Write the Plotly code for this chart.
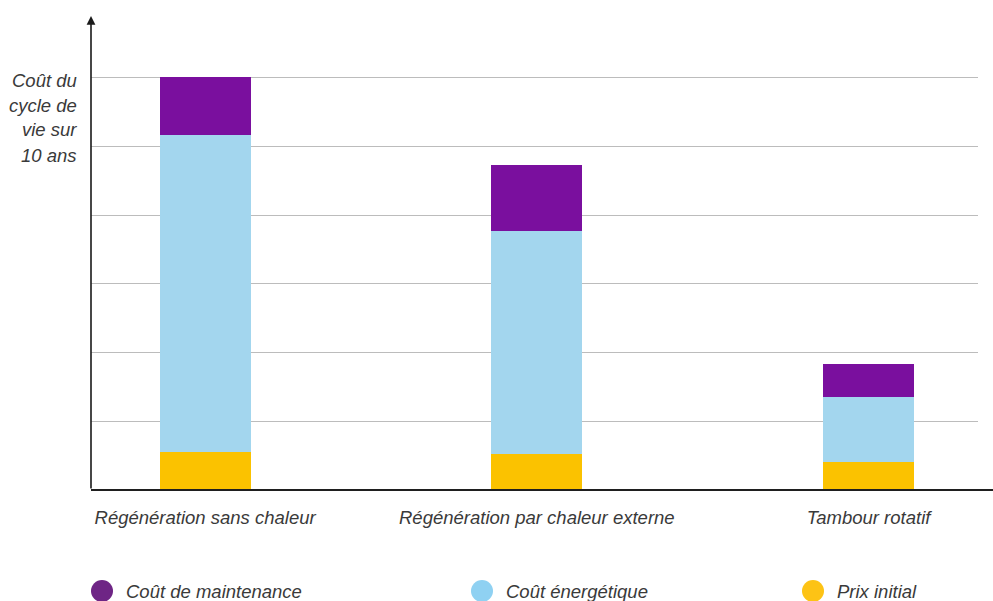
import plotly.graph_objects as go

categories = ["Régénération sans chaleur", "Régénération par chaleur externe", "Tambour rotatif"]
prix_initial = [0.55, 0.52, 0.41]
cout_energetique = [4.62, 3.25, 0.95]
cout_maintenance = [0.85, 0.96, 0.47]
series_names = ["Coût de maintenance", "Coût énergétique", "Prix initial"]
y_title_lines = ["Coût du", "cycle de", "vie sur", "10 ans"]
grid_vals = [1, 2, 3, 4, 5, 6]

bar_colors = {"Prix initial": "#fbc200", "Coût énergétique": "#a3d6ee", "Coût de maintenance": "#7a0f9e"}
legend_colors = {"Coût de maintenance": "#6e2585", "Coût énergétique": "#8fd1f2", "Prix initial": "#fdc315"}

FONT = "Liberation Sans"
TXT = "#3a3a3a"
FS = 18.5

fig = go.Figure()
for name, vals in [("Prix initial", prix_initial), ("Coût énergétique", cout_energetique),
                   ("Coût de maintenance", cout_maintenance)]:
    fig.add_trace(go.Bar(x=categories, y=vals, name=name, marker=dict(color=bar_colors[name], line=dict(width=0)),
                         width=0.274, showlegend=False, hoverinfo="skip"))

W, H = 993, 601
L, R, T, B = 91, 15, 16, 111
plot_h = H - T - B
unit_px = 68.67

annotations = []
shapes = []
# y axis arrow
annotations.append(dict(x=0, y=1, xref="paper", yref="paper", ax=0, ay=plot_h, axref="pixel", ayref="pixel",
                        text="", showarrow=True, arrowhead=2, arrowsize=1.1, arrowwidth=1.6, arrowcolor="#1a1a1a",
                        standoff=0, startstandoff=0))
# baseline
shapes.append(dict(type="line", xref="paper", yref="paper", x0=0, x1=(W - L) / (W - L - R), y0=0, y1=0,
                   line=dict(color="#1f1f1f", width=2)))
# y title lines
line_centers = [80, 105, 130, 156]
for txt, pc in zip(y_title_lines, line_centers):
    annotations.append(dict(x=0, y=(H - B - pc) / plot_h, xref="paper", yref="paper", xanchor="right",
                            yanchor="middle", xshift=-12, text=txt, showarrow=False,
                            font=dict(family=FONT, size=FS, color=TXT, style="italic")))
# legend
leg_x_px = [102, 482, 813]
leg_y = (H - B - 591) / plot_h
for name, px in zip(series_names, leg_x_px):
    xp = (px - L) / (W - L - R)
    shapes.append(dict(type="circle", xref="paper", yref="paper", xsizemode="pixel", ysizemode="pixel",
                       xanchor=xp, yanchor=leg_y, x0=-11, x1=11, y0=-11, y1=11,
                       fillcolor=legend_colors[name], line=dict(width=0)))
    annotations.append(dict(x=xp, y=leg_y, xref="paper", yref="paper", xanchor="left", yanchor="middle",
                            xshift=22, text=name, showarrow=False,
                            font=dict(family=FONT, size=FS, color=TXT, style="italic")))

fig.update_layout(
    width=W, height=H, barmode="stack", plot_bgcolor="white", paper_bgcolor="white",
    margin=dict(l=L, r=R, t=T, b=B, pad=0),
    xaxis=dict(range=[-0.344, 2.330], showline=False, showgrid=False, zeroline=False,
               ticks="outside", ticklen=11, tickcolor="rgba(0,0,0,0)",
               tickfont=dict(family=FONT, size=FS, color=TXT, style="italic")),
    yaxis=dict(range=[0, plot_h / unit_px], tickvals=grid_vals, showticklabels=False, ticks="",
               showgrid=True, gridcolor="#bcbcbc", gridwidth=1.2, zeroline=False, showline=False),
    annotations=annotations, shapes=shapes, showlegend=False,
)
fig.write_html("out.html")
